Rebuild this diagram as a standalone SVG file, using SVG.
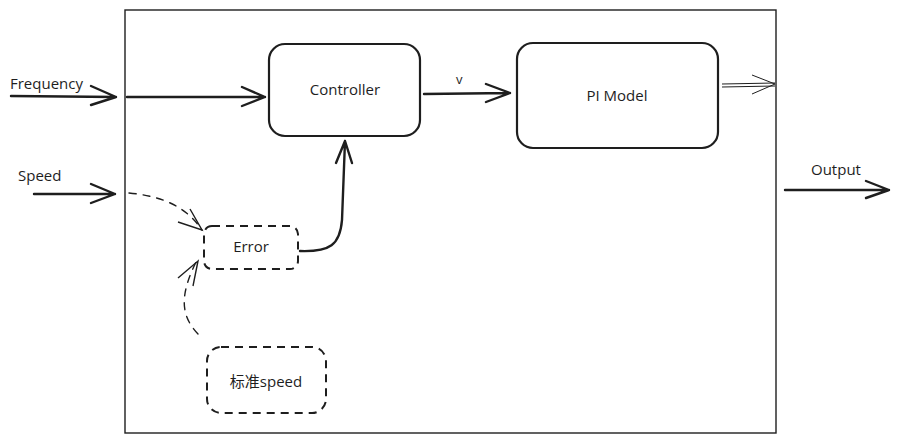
<svg xmlns="http://www.w3.org/2000/svg" width="899" height="442" viewBox="0 0 899 442">
<defs>
<style>
.box{fill:none;stroke:#1e1e1e;stroke-width:2.2}
.dash{fill:none;stroke:#1e1e1e;stroke-width:2;stroke-dasharray:8 6}
.ln{fill:none;stroke:#1e1e1e;stroke-width:2.4;stroke-linecap:round;stroke-linejoin:round}
.dln{fill:none;stroke:#1e1e1e;stroke-width:1.4;stroke-dasharray:7 7;stroke-linecap:round}
.t{font-family:"Open Sans","Noto Sans CJK SC",sans-serif;font-size:15px;fill:#1e1e1e}
</style>
</defs>
<rect x="0" y="0" width="899" height="442" fill="#ffffff"/>
<g id="frame"><rect x="125" y="10" width="651" height="423" fill="none" stroke="#1e1e1e" stroke-width="1.4"/></g>
<g id="controller"><rect class="box" x="269" y="44" width="151" height="92" rx="16"/><text class="t" x="345" y="95" text-anchor="middle">Controller</text></g>
<g id="pimodel"><rect class="box" x="517" y="43" width="201" height="105" rx="16"/><text class="t" x="617" y="101" text-anchor="middle">PI Model</text></g>
<g id="error"><rect class="dash" x="204" y="226" width="94" height="43" rx="8"/><text class="t" x="251" y="252" text-anchor="middle">Error</text></g>
<g id="stdspeed"><rect class="dash" x="207" y="347" width="119" height="66" rx="14"/><text class="t" x="266" y="387" text-anchor="middle">标准speed</text></g>
<g id="labels">
<text class="t" x="10" y="89">Frequency</text>
<text class="t" x="18" y="181">Speed</text>
<text class="t" x="811" y="175">Output</text>
<text class="t" x="456" y="84" style="font-size:13px">v</text>
</g>
<g id="connectors">
<path class="ln" d="M11 96 L116 97 M91 86 L116 97 L91 105"/>
<path class="ln" d="M127 97 L265 97 M242 87 L265 97 L242 106"/>
<path class="ln" d="M424 94 L510 93 M486 84 L510 93 L486 102"/>
<path d="M722 84 L775 83 M722 87 L775 86 M752 75 L775 84 L752 94" fill="none" stroke="#1e1e1e" stroke-width="1"/>
<path class="ln" d="M785 190 L889 190 M866 181 L889 190 L866 198"/>
<path class="ln" d="M34 194 L115 194 M91 184 L115 194 L91 203"/>
<path class="dln" d="M129 193 C160 196 185 205 202 230"/>
<path fill="none" stroke="#1e1e1e" stroke-width="1.4" d="M178 222 L202 230 L190 209"/>
<path class="ln" d="M300 251 C330 252 340 245 342 220 L345 141 M336 163 L345 141 L352 163"/>
<path class="dln" d="M198 334 C180 315 180 295 196 262"/>
<path fill="none" stroke="#1e1e1e" stroke-width="1.4" d="M178 278 L198 261 L193 286"/>
</g>
</svg>
